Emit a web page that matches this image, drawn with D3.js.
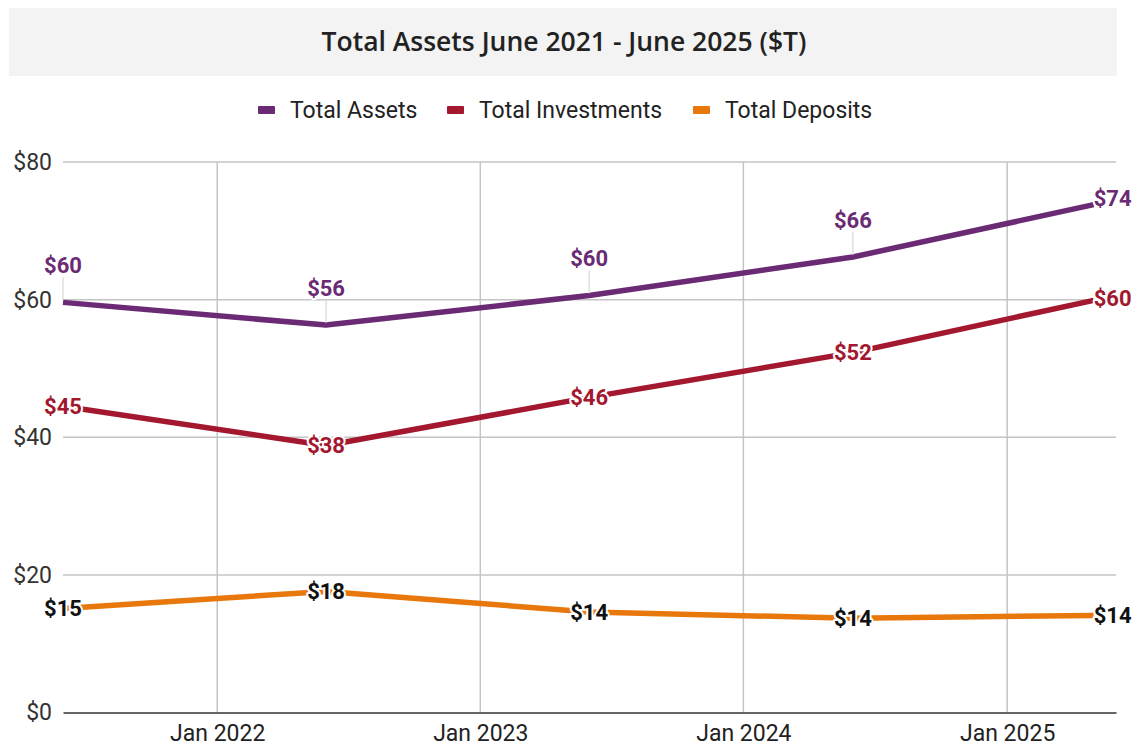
<!DOCTYPE html>
<html>
<head>
<meta charset="utf-8">
<script src="https://cdn.jsdelivr.net/npm/d3@7"></script>
<style>
  body { margin: 0; background: #fff; }
  svg { display: block; font-family: Roboto, sans-serif; }
</style>
</head>
<body>
<div id="chart"></div>
<script>
// data
var dates = ["2021-06-01", "2022-06-01", "2023-06-01", "2024-06-01", "2025-05-01"];
var totalAssets = [59.6, 56.3, 60.6, 66.2, 73.8];
var totalInvestments = [44.5, 38.8, 45.8, 52.3, 59.9];
var totalDeposits = [15.1, 17.6, 14.6, 13.7, 14.1];
var assetLabels = ["$60", "$56", "$60", "$66", "$74"];
var investLabels = ["$45", "$38", "$46", "$52", "$60"];
var depositLabels = ["$15", "$18", "$14", "$14", "$14"];
var yTicks = [0, 20, 40, 60, 80];
var xTicks = ["2022-01-01", "2023-01-01", "2024-01-01", "2025-01-01"];

var width = 1138, height = 747;
var margin = {top: 162, right: 22, bottom: 34.5, left: 63};
var parse = d3.timeParse("%Y-%m-%d");

var series = [
  {name: "Total Assets", values: totalAssets, labels: assetLabels, color: "#6b2a74", textColor: "#6b2a74"},
  {name: "Total Investments", values: totalInvestments, labels: investLabels, color: "#a3172f", textColor: "#a3172f"},
  {name: "Total Deposits", values: totalDeposits, labels: depositLabels, color: "#e8770c", textColor: "#111"}
];

var svg = d3.select("#chart").append("svg")
  .attr("width", width)
  .attr("height", height);

// title
svg.append("rect")
  .attr("x", 9).attr("y", 8)
  .attr("width", 1108).attr("height", 68)
  .attr("fill", "#f3f3f3");
svg.append("text")
  .attr("x", 564).attr("y", 42)
  .attr("dy", "0.35em")
  .attr("text-anchor", "middle")
  .style("font-family", "'Open Sans', sans-serif")
  .style("font-weight", 600)
  .style("font-size", "26.5px")
  .attr("fill", "#222")
  .text("Total Assets June 2021 - June 2025 ($T)");

// legend
var legendX = [258, 447, 693];
var legend = svg.append("g");
series.forEach(function(s, i) {
  var g = legend.append("g").attr("transform", `translate(${legendX[i]},110)`);
  g.append("rect")
    .attr("x", 0).attr("y", -4)
    .attr("width", 17).attr("height", 8)
    .attr("rx", 1)
    .attr("fill", s.color);
  g.append("text")
    .attr("x", 32).attr("dy", "0.35em")
    .style("font-size", "23px")
    .attr("fill", "#222")
    .text(s.name);
});

var x = d3.scaleTime()
  .domain([parse("2021-06-01"), parse("2025-06-01")])
  .range([margin.left, width - margin.right]);
var y = d3.scaleLinear()
  .domain([0, 80])
  .range([height - margin.bottom, margin.top]);

// gridlines
svg.append("g")
  .selectAll("line")
  .data(yTicks.slice(1))
  .enter().append("line")
    .attr("x1", margin.left).attr("x2", width - margin.right)
    .attr("y1", d => y(d)).attr("y2", d => y(d))
    .attr("stroke", "#c4c4c4").attr("stroke-width", 1.5);
svg.append("g")
  .selectAll("line")
  .data(xTicks)
  .enter().append("line")
    .attr("x1", d => x(parse(d))).attr("x2", d => x(parse(d)))
    .attr("y1", margin.top).attr("y2", y(0))
    .attr("stroke", "#c4c4c4").attr("stroke-width", 1.5);

// y axis labels
var yAxis = svg.append("g")
  .attr("transform", `translate(${margin.left},0)`)
  .call(d3.axisLeft(y).tickValues(yTicks).tickSize(0).tickPadding(11).tickFormat(d => "$" + d));
yAxis.select(".domain").remove();
yAxis.selectAll("text").style("font-size", "23px").attr("fill", "#333").style("font-family", "Roboto, sans-serif");

// x axis
var xAxis = svg.append("g")
  .attr("transform", `translate(0,${y(0)})`)
  .call(d3.axisBottom(x).tickValues(xTicks.map(parse)).tickSize(0).tickPadding(12).tickFormat(d3.timeFormat("Jan %Y")));
xAxis.select(".domain").attr("stroke", "#333").attr("stroke-width", 1.5);
xAxis.selectAll("text").style("font-size", "23px").attr("fill", "#222").style("font-family", "Roboto, sans-serif");

// lines
var line = d3.line()
  .x(d => x(d.date))
  .y(d => y(d.value));

series.forEach(function(s) {
  var pts = s.values.map((v, i) => ({date: parse(dates[i]), value: v, label: s.labels[i]}));
  svg.append("path")
    .datum(pts)
    .attr("d", line)
    .attr("fill", "none")
    .attr("stroke", s.color)
    .attr("stroke-width", 5.5)
    .attr("stroke-linejoin", "round");
  s.pts = pts;
});

// labels
series.forEach(function(s, si) {
  var g = svg.append("g");
  var last = s.pts.length - 1;
  s.pts.forEach(function(p, i) {
    var px = x(p.date), py = y(p.value);
    var ty = py, anchor = "middle", tx = px;
    if (si === 0 && i !== last) {
      ty = py - 37;
      g.append("line")
        .attr("x1", px).attr("x2", px)
        .attr("y1", ty + 12).attr("y2", py - 2)
        .attr("stroke", "#cfcfcf").attr("stroke-width", 1);
    }
    if (i === last) {
      anchor = "start";
      if (si === 0) ty = py - 6;
      else if (si === 1) ty = py - 2;
    }
    g.append("text")
      .attr("x", tx).attr("y", ty)
      .attr("dy", "0.35em")
      .attr("text-anchor", anchor)
      .style("font-size", "22px")
      .style("font-weight", 700)
      .attr("fill", s.textColor)
      .attr("stroke", "#fff")
      .attr("stroke-width", 4)
      .attr("stroke-linejoin", "round")
      .style("paint-order", "stroke")
      .text(p.label);
  });
});
</script>
</body>
</html>
